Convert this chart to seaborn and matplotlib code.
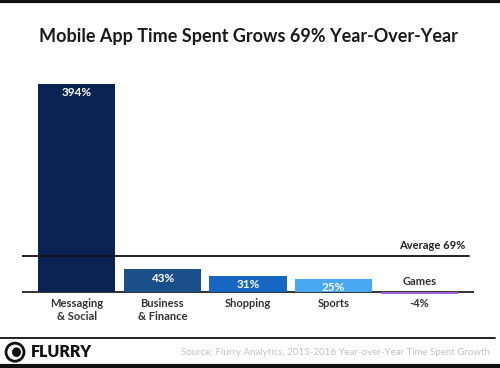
import numpy as np
import matplotlib.pyplot as plt
import matplotlib.patches as mpatches
from matplotlib.lines import Line2D
import pandas as pd
import seaborn as sns

categories = ["Messaging & Social", "Business & Finance", "Shopping", "Sports", "Games"]
growth = [394, 43, 31, 25, -4]
tick_labels = ["Messaging\n& Social", "Business\n& Finance", "Shopping", "Sports", "-4%"]
bar_colors = ["#0b2352", "#1b4f8a", "#1766c2", "#48a8f2", "#a25fd6"]
average = 69

df = pd.DataFrame({"category": categories, "growth": growth})

sns.set_style("white")
plt.rcParams["font.family"] = ["Lato", "DejaVu Sans"]

fig = plt.figure(figsize=(5, 3.68), dpi=100)
ax = fig.add_axes([0.044, 0.1951, 0.904, 0.5853])

sns.barplot(data=df, x="category", y="growth", hue="category",
            palette=bar_colors, width=0.9, saturation=1, legend=False, ax=ax,
            linewidth=0, zorder=2)

ax.set_xlim(-0.64, 4.64)
ax.set_ylim(-8, 400)
for s in ax.spines.values():
    s.set_visible(False)
ax.set_yticks([])
ax.set_xlabel("")
ax.set_ylabel("")
ax.set_xticks(range(len(categories)))
ax.set_xticklabels(tick_labels, fontsize=8, fontweight="bold", color="#333333",
                   linespacing=1.25)
ax.tick_params(axis="x", length=0, pad=1)

ax.axhline(0, color="#222222", lw=1.3, zorder=1)
ax.axhline(average, xmin=0, xmax=0.99, color="#111111", lw=1.3, zorder=3)
ax.annotate(f"Average {average}%", xy=(0.98, average), xycoords=("axes fraction", "data"),
            xytext=(0, 3), textcoords="offset points", ha="right", va="bottom",
            fontsize=8, fontweight="bold", color="#222222")

for i, v in enumerate(growth):
    if v > 0:
        ax.annotate(f"{v}%", xy=(i, v), xytext=(0, -2.5), textcoords="offset points",
                    ha="center", va="top", fontsize=8.5, fontweight="bold", color="white")
ax.annotate(categories[4], xy=(4, 0), xytext=(0, 3.5), textcoords="offset points",
            ha="center", va="bottom", fontsize=8, fontweight="bold", color="#333333")

fig.text(0.496, 0.902, "Mobile App Time Spent Grows 69% Year-Over-Year",
         ha="center", va="center", fontsize=13, fontweight="bold", color="#1a1a1a")

# frame lines
fig.add_artist(Line2D([0, 1], [0.997, 0.997], transform=fig.transFigure, color="#111111", lw=3))
fig.add_artist(Line2D([0, 0.99], [0.082, 0.082], transform=fig.transFigure, color="#111111", lw=1.3))
fig.add_artist(Line2D([0, 1], [0.006, 0.006], transform=fig.transFigure, color="#111111", lw=3))

# logo
fig.add_artist(mpatches.Ellipse((0.03, 0.043), 0.036, 0.049, transform=fig.transFigure,
                                 facecolor="none", edgecolor="#111111", lw=2))
fig.add_artist(mpatches.Ellipse((0.033, 0.043), 0.018, 0.026, transform=fig.transFigure,
                                 facecolor="#111111", edgecolor="none"))
fig.text(0.062, 0.043, "FLURRY", ha="left", va="center", fontsize=11.5,
         fontweight="heavy", color="#111111")

fig.text(0.98, 0.043, "Source: Flurry Analytics, 2015-2016 Year-over-Year Time Spent Growth",
         ha="right", va="center", fontsize=7, color="#c4c4c4")

fig.savefig("out.png", dpi=100)
